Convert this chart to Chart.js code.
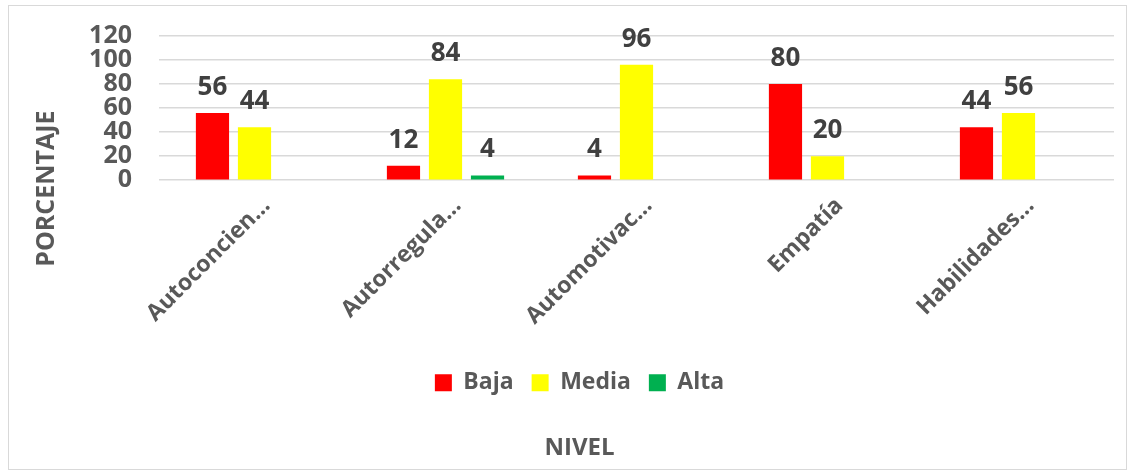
<!DOCTYPE html>
<html>
<head>
<meta charset="utf-8">
<script src="https://cdn.jsdelivr.net/npm/chart.js@4.4.1/dist/chart.umd.min.js"></script>
<style>
  body { margin: 0; background: #fff; }
  #box { position: absolute; left: 8px; top: 5px; width: 1119px; height: 465px; border: 1px solid #d9d9d9; box-sizing: border-box; }
</style>
</head>
<body>
<div id="box"><canvas id="chart"></canvas></div>
<script>
const categories = ["Autoconcien…", "Autorregula…", "Automotivac…", "Empatía", "Habilidades…"];
const baja = [56, 12, 4, 80, 44];
const media = [44, 84, 96, 20, 56];
const alta = [0, 4, 0, 0, 0];
const yTicks = [0, 20, 40, 60, 80, 100, 120];

const FONT = "'Open Sans', sans-serif";
const GREY = "#595959";

// value labels above the bars (zeros left out)
const barLabels = {
  id: "barLabels",
  afterDatasetsDraw(chart) {
    const ctx = chart.ctx;
    ctx.save();
    ctx.font = "bold 26px " + FONT;
    ctx.fillStyle = "#404040";
    ctx.textAlign = "center";
    ctx.textBaseline = "alphabetic";
    chart.data.datasets.forEach((ds, i) => {
      chart.getDatasetMeta(i).data.forEach((bar, j) => {
        if (ds.data[j] > 0) ctx.fillText(ds.data[j], bar.x, bar.y - 18);
      });
    });
    ctx.restore();
  }
};

// y axis title, centred on plot + category labels like the original
const yTitle = {
  id: "yTitle",
  afterDraw(chart) {
    const ctx = chart.ctx;
    const x = chart.scales.x;
    ctx.save();
    ctx.font = "bold 25px " + FONT;
    ctx.fillStyle = GREY;
    ctx.textAlign = "center";
    ctx.textBaseline = "middle";
    ctx.translate(38, (chart.chartArea.top + x.bottom) / 2 - 6);
    ctx.rotate(-Math.PI / 2);
    ctx.fillText("PORCENTAJE", 0, 0);
    ctx.restore();
  }
};

new Chart(document.getElementById("chart"), {
  type: "bar",
  data: {
    labels: categories,
    datasets: [
      { label: "Baja", data: baja, backgroundColor: "#ff0000" },
      { label: "Media", data: media, backgroundColor: "#ffff00" },
      { label: "Alta", data: alta, backgroundColor: "#00b050" }
    ]
  },
  options: {
    responsive: true,
    maintainAspectRatio: false,
    animation: false,
    layout: { padding: { left: 36, right: 12, top: 30, bottom: 6 } },
    datasets: { bar: { categoryPercentage: 0.66, barPercentage: 0.79 } },
    scales: {
      x: {
        grid: { display: false },
        border: { display: false },
        afterFit: s => { s.height = 173; },
        ticks: { color: GREY, font: { family: FONT, size: 23, weight: "bold" }, minRotation: 45, maxRotation: 45, padding: 4, labelOffset: 12 }
      },
      y: {
        min: 0,
        max: 120,
        afterBuildTicks: s => { s.ticks = yTicks.map(v => ({ value: v })); },
        afterFit: s => { s.width = 114; s.paddingTop = 0; s.paddingBottom = 0; },
        grid: { color: "#d9d9d9", lineWidth: 1.5, drawTicks: false },
        border: { display: false },
        ticks: { color: GREY, font: { family: FONT, size: 25, weight: "bold" }, padding: 27, autoSkip: false }
      }
    },
    plugins: {
      legend: {
        position: "bottom",
        labels: { color: GREY, font: { family: FONT, size: 23, weight: "bold" }, boxWidth: 17, boxHeight: 17, padding: 18 }
      },
      title: {
        display: true,
        position: "bottom",
        text: "NIVEL",
        color: GREY,
        font: { family: FONT, size: 24, weight: "bold" },
        padding: { top: 30, bottom: 0 }
      },
      tooltip: { enabled: false }
    }
  },
  plugins: [barLabels, yTitle]
});
</script>
</body>
</html>
